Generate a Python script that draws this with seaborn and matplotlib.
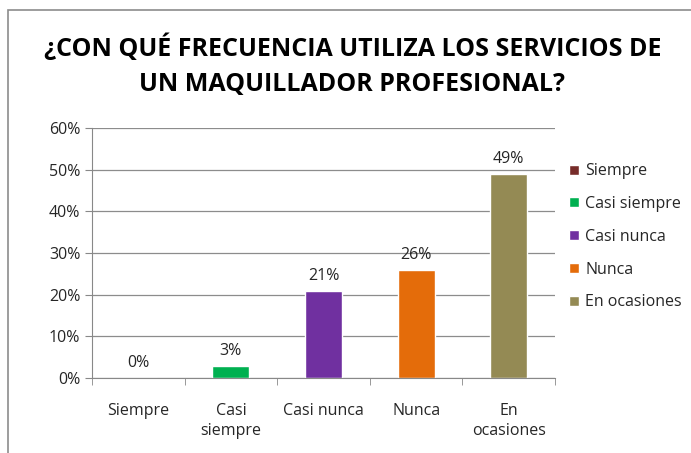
import pandas as pd
import seaborn as sns
import matplotlib.pyplot as plt
from matplotlib.patches import Rectangle
from matplotlib.ticker import PercentFormatter

# data
categorias = ["Siempre", "Casi siempre", "Casi nunca", "Nunca", "En ocasiones"]
etiquetas = ["Siempre", "Casi\nsiempre", "Casi nunca", "Nunca", "En\nocasiones"]
porcentajes = [0, 3, 21, 26, 49]
colores = ["#772C2A", "#00B050", "#7030A0", "#E46C0A", "#948A54"]

df = pd.DataFrame({"cat": categorias, "pct": porcentajes})

sns.set_style("white")
plt.rcParams["font.family"] = ["Open Sans", "DejaVu Sans"]

fig = plt.figure(figsize=(6.91, 4.53), dpi=100)
ax = fig.add_axes([92 / 691, 1 - 378 / 453, 463 / 691, 250 / 453])

sns.barplot(data=df, x="cat", y="pct", hue="cat", palette=colores,
            saturation=1, width=0.4, dodge=False, legend=True, ax=ax)

for c in ax.containers:
    ax.bar_label(c, fmt="%d%%", padding=5, fontsize=11.5, color="#262626")

ax.set_ylim(0, 60)
ax.set_yticks(range(0, 61, 10))
ax.yaxis.set_major_formatter(PercentFormatter(decimals=0))
ax.set_xlim(-0.5, 4.5)
ax.set_xticks(range(5))
ax.set_xticklabels(etiquetas, fontsize=11.5, color="#262626", linespacing=1.3)
ax.tick_params(axis="y", labelsize=11.5, labelcolor="#262626", length=5,
               direction="out", color="#888888", left=True)
ax.tick_params(axis="x", length=0, pad=18)
# ticks between categories on the x axis
ax.set_xticks([i - 0.5 for i in range(6)], minor=True)
ax.tick_params(axis="x", which="minor", length=5, color="#888888", bottom=True)
ax.grid(axis="y", color="#8c8c8c", linewidth=0.9)
ax.set_axisbelow(True)
for s in ["top", "right"]:
    ax.spines[s].set_visible(False)
for s in ["left", "bottom"]:
    ax.spines[s].set_color("#888888")
ax.set_xlabel("")
ax.set_ylabel("")

leg = ax.legend(loc="center left", bbox_to_anchor=(1.0, 0.565), frameon=False,
                fontsize=11.5, handlelength=0.6, handleheight=0.6,
                handletextpad=0.4, labelspacing=1.05)
for t in leg.get_texts():
    t.set_color("#262626")

fig.text(0.51, 1 - 66 / 453, "¿CON QUÉ FRECUENCIA UTILIZA LOS SERVICIOS DE\nUN MAQUILLADOR PROFESIONAL?",
         ha="center", va="center", fontsize=18, fontweight="bold",
         linespacing=1.55, color="black")

# outer frame of the chart area
fig.patches.append(Rectangle((8 / 691, -0.1), 1.0, 1 - 10 / 453 + 0.1,
                             transform=fig.transFigure, fill=False,
                             edgecolor="#8c8c8c", linewidth=1.2))

fig.savefig("out.png", dpi=100)
